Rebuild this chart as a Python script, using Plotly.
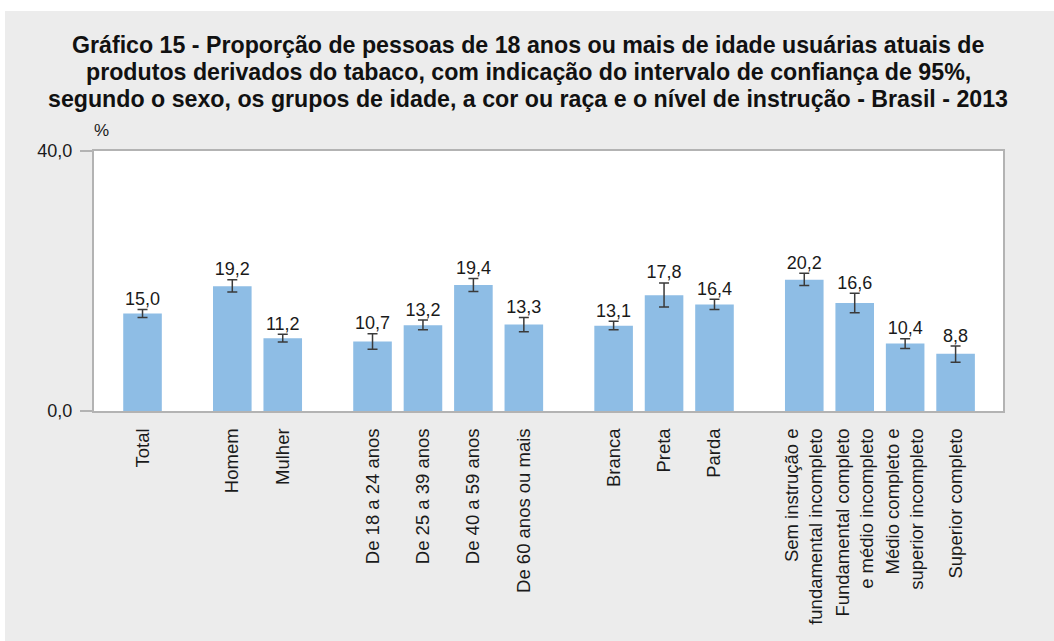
import plotly.graph_objects as go

# ---- data ----
title_lines = [
    "Gráfico 15 - Proporção de pessoas de 18 anos ou mais de idade usuárias atuais de",
    "produtos derivados do tabaco, com indicação do intervalo de confiança de 95%,",
    "segundo o sexo, os grupos de idade, a cor ou raça e o nível de instrução - Brasil - 2013",
]
groups = [
    ["Total"],
    ["Homem", "Mulher"],
    ["De 18 a 24 anos", "De 25 a 39 anos", "De 40 a 59 anos", "De 60 anos ou mais"],
    ["Branca", "Preta", "Parda"],
    ["Sem instrução e<br>fundamental incompleto",
     "Fundamental completo<br>e médio incompleto",
     "Médio completo e<br>superior incompleto",
     "Superior completo"],
]
values = [15.0, 19.2, 11.2, 10.7, 13.2, 19.4, 13.3, 13.1, 17.8, 16.4, 20.2, 16.6, 10.4, 8.8]
ci_lower = [14.4, 18.3, 10.6, 9.5, 12.5, 18.4, 12.2, 12.5, 16.0, 15.6, 19.3, 15.1, 9.6, 7.5]
ci_upper = [15.6, 20.2, 11.8, 11.9, 14.0, 20.4, 14.4, 13.8, 19.7, 17.2, 21.2, 18.1, 11.1, 10.0]
y_ticks = [0, 40]
y_ticktext = ["0,0", "40,0"]

# ---- layout of categories (slot positions with gaps between groups) ----
GAP = 1.78
labels, xpos = [], []
pos = 0.0
for gi, g in enumerate(groups):
    if gi > 0:
        pos += GAP - 1
    for lab in g:
        labels.append(lab)
        xpos.append(pos)
        pos += 1
last = xpos[-1]

err_plus = [u - v for u, v in zip(ci_upper, values)]
err_minus = [v - l for v, l in zip(values, ci_lower)]
text = [f"{v:.1f}".replace(".", ",") for v in values]

FONT = "Liberation Sans, Arial, sans-serif"
BAR = "#8ebde5"

# plot area geometry (px)
W, H = 1054, 641
L, R, T, B = 94, 51, 151, 230
PW, PH = W - L - R, H - T - B


def px_x(px):
    return (px - L) / PW


def px_y(py):
    return (H - B - py) / PH


fig = go.Figure()
fig.add_trace(go.Bar(
    x=xpos, y=values, width=0.765,
    marker=dict(color=BAR, line=dict(width=0)),
    error_y=dict(type="data", symmetric=False, array=err_plus, arrayminus=err_minus,
                 color="#3a3a3a", thickness=1.5, width=5),
    hoverinfo="skip", showlegend=False,
))
fig.add_trace(go.Scatter(
    x=xpos, y=ci_upper, mode="text", text=text, textposition="top center",
    textfont=dict(family=FONT, size=18, color="#1a1a1a"),
    hoverinfo="skip", showlegend=False, cliponaxis=False,
))

annotations = [
    dict(text=line, xref="paper", yref="paper", x=px_x(528), y=px_y(45 + 27 * i),
         xanchor="center", yanchor="middle", showarrow=False,
         font=dict(family=FONT, size=23.2, color="#111111", weight="bold"))
    for i, line in enumerate(title_lines)
]
annotations.append(dict(
    text="%", xref="paper", yref="paper", x=px_x(101), y=px_y(130),
    xanchor="center", yanchor="middle", showarrow=False,
    font=dict(family=FONT, size=17, color="#1a1a1a"),
))

fig.update_layout(
    width=W, height=H,
    margin=dict(l=L, r=R, t=T, b=B),
    paper_bgcolor="#ececec", plot_bgcolor="white",
    font=dict(family=FONT, color="#1a1a1a"),
    xaxis=dict(
        range=[-0.962, last + 0.94],
        tickmode="array", tickvals=xpos, ticktext=labels, tickangle=-90,
        tickfont=dict(family=FONT, size=18.5, color="#1a1a1a"),
        ticks="", showgrid=False, zeroline=False,
        showline=True, linecolor="#b3b3b3", linewidth=2, mirror=True,
        ticklabelstandoff=8,
    ),
    yaxis=dict(
        range=[0, 40], tickmode="array", tickvals=y_ticks, ticktext=y_ticktext,
        tickfont=dict(family=FONT, size=18, color="#1a1a1a"),
        ticks="outside", ticklen=12, tickcolor="#b3b3b3", tickwidth=2,
        showgrid=False, zeroline=False,
        showline=True, linecolor="#b3b3b3", linewidth=2, mirror=True,
        ticklabelstandoff=4,
    ),
    annotations=annotations,
    shapes=[
        dict(type="rect", xref="paper", yref="paper", x0=-0.2, x1=1.2,
             y0=px_y(11), y1=px_y(-5),
             fillcolor="white", line=dict(width=0), layer="above"),
        dict(type="rect", xref="paper", yref="paper", x0=-0.2, x1=px_x(5),
             y0=-1.0, y1=1.7, fillcolor="white", line=dict(width=0), layer="above"),
    ],
)

fig.write_html("out.html", config={"displayModeBar": False},
               post_script="document.body.style.margin='0';document.body.style.overflow='hidden';")
